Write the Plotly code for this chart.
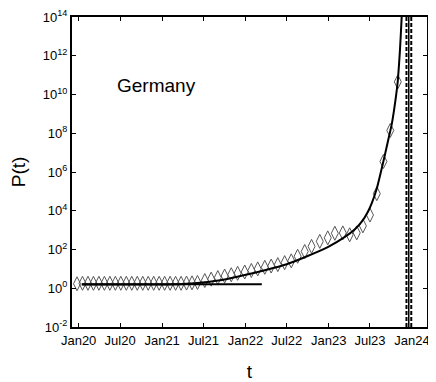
"""Germany: P(t) with power-law singularity fit."""

import plotly.graph_objects as go

# observed P(t), Germany
obs_dates = [
    "2019-12-25", "2020-01-18", "2020-02-11", "2020-03-06", "2020-03-30",
    "2020-04-23", "2020-05-17", "2020-06-10", "2020-07-04", "2020-07-28",
    "2020-08-21", "2020-09-14", "2020-10-08", "2020-11-01", "2020-11-25",
    "2020-12-19", "2021-01-12", "2021-02-05", "2021-03-01", "2021-03-25",
    "2021-04-18", "2021-05-12", "2021-06-05", "2021-07-07", "2021-08-04",
    "2021-09-02", "2021-10-02", "2021-10-31", "2021-11-28", "2021-12-29",
    "2022-01-27", "2022-02-24", "2022-03-27", "2022-04-24", "2022-05-23",
    "2022-06-22", "2022-07-21", "2022-08-18", "2022-09-18", "2022-10-18",
    "2022-11-23", "2022-12-28", "2023-01-28", "2023-03-04", "2023-04-03",
    "2023-05-04", "2023-05-31", "2023-07-01", "2023-07-31", "2023-08-29",
    "2023-09-28", "2023-10-31",
]
obs_values = [
    1.7, 1.8, 1.8, 1.8, 1.8, 1.8, 1.8, 1.8, 1.8, 1.8,
    1.8, 1.8, 1.8, 1.8, 1.8, 1.8, 1.8, 1.8, 1.8, 1.8,
    1.85, 1.9, 2.0, 2.5, 2.95, 3.55, 4.27, 5.0, 5.9, 6.9,
    8.3, 10, 12, 14, 16.6, 21, 26, 45, 79, 145,
    263, 400, 690, 720, 575, 720, 1660, 6000, 7.6e4, 3.5e6,
    1.4e8, 4.5e10,
]

# early-phase constant level
flat_dates = ["2020-01-15", "2022-03-14"]
flat_values = [1.6, 1.6]

# fitted curve
fit_dates = [
    "2020-01-15", "2020-11-08", "2021-03-20", "2021-05-24", "2021-07-29",
    "2021-10-02", "2021-12-29", "2022-03-27", "2022-07-01", "2022-09-18",
    "2022-12-28", "2023-03-13", "2023-04-26", "2023-05-27", "2023-06-22",
    "2023-07-09", "2023-07-31", "2023-08-27", "2023-09-18", "2023-10-05",
    "2023-10-23", "2023-10-31", "2023-11-09", "2023-11-17", "2023-11-22",
]
fit_values = [
    1.58, 1.58, 1.62, 1.82, 2.19,
    2.82, 4.79, 8.5, 17.4, 39.8,
    132, 447, 1120, 2820, 8910,
    2.5e4, 1.41e5, 2.82e6, 3.98e7, 3.16e8,
    7.94e9, 5.01e10, 1.58e12, 1e14, 1e16,
]

# critical time and its bounds
tc = "2023-12-18"
tc_bounds = ["2023-12-08", "2023-12-29"]

x_ticks = ["2020-01-01", "2020-07-01", "2021-01-01", "2021-07-01", "2022-01-01",
           "2022-07-01", "2023-01-01", "2023-07-01", "2024-01-01"]
x_labels = ["Jan20", "Jul20", "Jan21", "Jul21", "Jan22", "Jul22", "Jan23", "Jul23", "Jan24"]
y_ticks = [1e-2, 1, 1e2, 1e4, 1e6, 1e8, 1e10, 1e12, 1e14]
y_labels = ["10<sup>-2</sup>", "10<sup>0</sup>", "10<sup>2</sup>", "10<sup>4</sup>",
            "10<sup>6</sup>", "10<sup>8</sup>", "10<sup>10</sup>", "10<sup>12</sup>",
            "10<sup>14</sup>"]

FONT = "Liberation Sans, Arial, sans-serif"

fig = go.Figure()
fig.add_trace(go.Scatter(
    x=obs_dates, y=obs_values, mode="markers",
    marker=dict(symbol="diamond-tall-open", size=10, color="#555555",
                line=dict(width=1, color="#555555")),
))
fig.add_trace(go.Scatter(
    x=flat_dates, y=flat_values, mode="lines",
    line=dict(color="black", width=2),
))
fig.add_trace(go.Scatter(
    x=fit_dates, y=fit_values, mode="lines",
    line=dict(color="black", width=2, shape="spline", smoothing=0.5),
))
for d in tc_bounds:
    fig.add_vline(x=d, line=dict(color="black", width=2, dash="4px,2px"))
fig.add_vline(x=tc, line=dict(color="black", width=1.5))

fig.add_annotation(
    x=0.237, y=0.78, xref="paper", yref="paper", text="Germany",
    xanchor="center", yanchor="middle",
    showarrow=False, font=dict(size=19, color="black", family=FONT),
)

axis_common = dict(
    showline=True, linecolor="black", linewidth=2, mirror="ticks",
    ticks="inside", ticklen=4, tickwidth=1, tickcolor="black",
    showgrid=False, zeroline=False, automargin=False,
    ticklabeloverflow="allow",
    tickfont=dict(size=13, color="black", family=FONT),
)
fig.update_xaxes(
    type="date", range=["2019-12-03", "2024-03-07"],
    tickvals=x_ticks, ticktext=x_labels,
    title=dict(text="t", font=dict(size=19, color="black", family=FONT), standoff=19),
    **axis_common,
)
fig.update_yaxes(
    type="log", range=[-2, 14],
    tickvals=y_ticks, ticktext=y_labels,
    title=dict(text="P(t)", font=dict(size=19, color="black", family=FONT), standoff=14),
    **axis_common,
)
# the page body adds an 8px offset, so the figure is sized to the rest of the window
fig.update_layout(
    width=428, height=374,
    margin=dict(l=64, r=9, t=9, b=55),
    plot_bgcolor="white", paper_bgcolor="white",
    showlegend=False,
)
fig.write_html("out.html")
